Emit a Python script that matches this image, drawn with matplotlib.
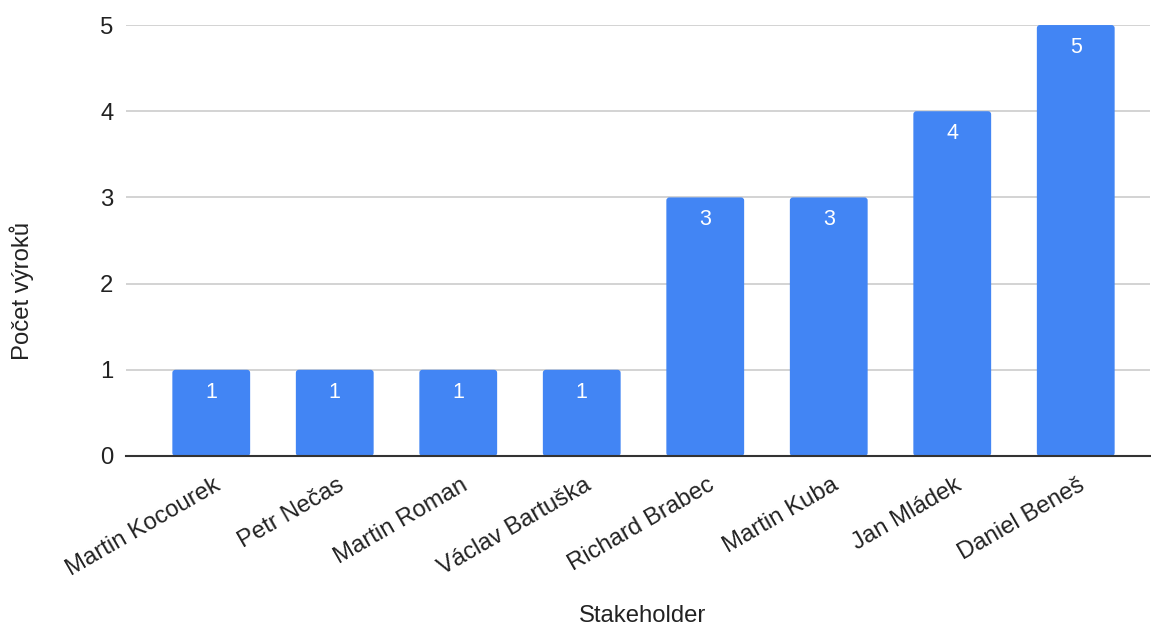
import matplotlib.pyplot as plt
from matplotlib.patches import FancyBboxPatch
from matplotlib.transforms import ScaledTranslation

plt.rcParams['font.family'] = ['Liberation Sans', 'DejaVu Sans']

stakeholders = ["Martin Kocourek", "Petr Nečas", "Martin Roman", "Václav Bartuška",
                "Richard Brabec", "Martin Kuba", "Jan Mládek", "Daniel Beneš"]
counts = [1, 1, 1, 1, 3, 3, 4, 5]
y_ticks = [0, 1, 2, 3, 4, 5]

bar_color = "#4285F4"
text_color = "#222222"
label_size = 17.2

fig = plt.figure(figsize=(11.51, 6.26), dpi=100)
ax = fig.add_axes([0.1095, 0.2716, 0.8895, 0.6884])

x = list(range(len(stakeholders)))
bars = ax.bar(x, counts, width=0.63, color=bar_color, zorder=3)

# replace plain rectangles with slightly rounded ones
for b in bars:
    b.set_visible(False)
    rb = FancyBboxPatch((b.get_x(), b.get_y()), b.get_width(), b.get_height(),
                        boxstyle="round,pad=0,rounding_size=0.025",
                        mutation_aspect=1.43, facecolor=bar_color,
                        edgecolor='none', zorder=3)
    ax.add_patch(rb)

for xi, v in zip(x, counts):
    ax.text(xi, v - 0.26, str(v), ha='center', va='center', color='white',
            fontsize=15.5, zorder=4)

ax.set_xlim(-0.69, 7.6)
ax.set_ylim(0, 5)
ax.set_yticks(y_ticks)
ax.set_yticklabels([str(t) for t in y_ticks], fontsize=label_size, color=text_color)
ax.set_xticks(x)
ax.set_xticklabels(stakeholders, rotation=30, ha='right', rotation_mode='anchor',
                   fontsize=label_size, color=text_color)
ax.tick_params(axis='both', length=0)
ax.tick_params(axis='y', pad=9)
ax.tick_params(axis='x', pad=13)
shift = ScaledTranslation(2 / 100, 0, fig.dpi_scale_trans)
for lbl in ax.get_xticklabels():
    lbl.set_transform(lbl.get_transform() + shift)

ax.grid(axis='y', color='#cccccc', linewidth=1.2, zorder=0)
for side in ['top', 'right', 'left']:
    ax.spines[side].set_visible(False)
ax.spines['bottom'].set_color('#333333')
ax.spines['bottom'].set_linewidth(1.5)
ax.spines['bottom'].set_zorder(5)

fig.text(0.019, 0.535, "Počet výroků", rotation=90, ha='center', va='center',
         fontsize=label_size, color=text_color)
fig.text(0.558, 0.016, "Stakeholder", ha='center', va='center',
         fontsize=label_size, color=text_color)

fig.savefig("out.png", dpi=100)
